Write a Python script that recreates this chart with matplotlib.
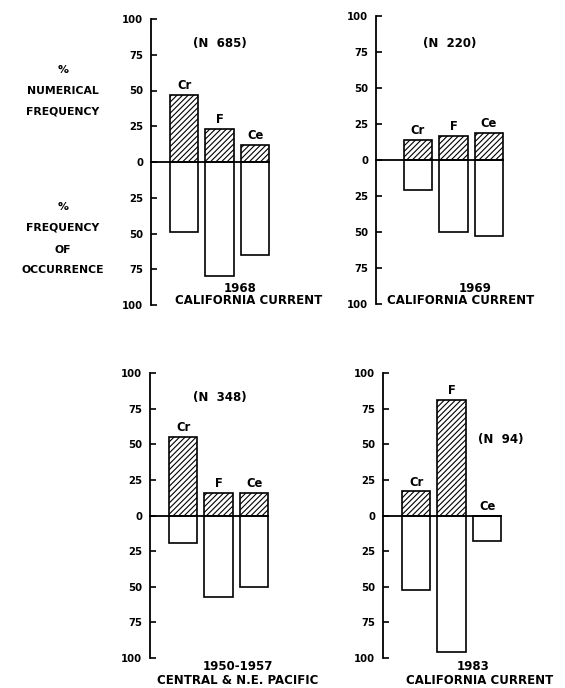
import matplotlib.pyplot as plt

plt.rcParams['font.family'] = ['DejaVu Sans']
plt.rcParams['font.weight'] = 'bold'
plt.rcParams['hatch.linewidth'] = 0.8

# Groups: Cr, F, Ce
groups = ["Cr", "F", "Ce"]

# % numerical frequency (upper bars) and % frequency of occurrence (lower bars)
num_1968 = [47, 23, 12]
occ_1968 = [49, 80, 65]
num_1969 = [14, 17, 19]
occ_1969 = [21, 50, 53]
num_1950 = [55, 16, 16]
occ_1950 = [19, 57, 50]
num_1983 = [17, 81, 0]
occ_1983 = [52, 96, 18]

years = ["1968", "1969", "1950-1957", "1983"]
regions = ["CALIFORNIA CURRENT", "CALIFORNIA CURRENT",
           "CENTRAL & N.E. PACIFIC", "CALIFORNIA CURRENT"]
sample_n = ["(N  685)", "(N  220)", "(N  348)", "(N  94)"]

W, H = 565, 688
fig = plt.figure(figsize=(W / 100, H / 100), dpi=100)

px_per_unit = 35.5


def make_axes(left_px, top_px, bottom_px, xmin, xmax):
    width_px = (xmax - xmin) * px_per_unit
    ax = fig.add_axes([left_px / W, 1 - bottom_px / H, width_px / W,
                       (bottom_px - top_px) / H])
    ax.set_xlim(xmin, xmax)
    ax.set_ylim(-100, 100)
    return ax


def draw_panel(ax, num, occ, n_label, n_pos):
    x = [1, 2, 3]
    bw = 0.8
    ax.bar(x, num, width=bw, facecolor='white', edgecolor='black',
           hatch='//////', linewidth=1.2)
    ax.bar(x, [-v for v in occ], width=bw, facecolor='white',
           edgecolor='black', linewidth=1.2)
    xmin = ax.get_xlim()[0]
    ax.plot([xmin, x[-1] + bw / 2], [0, 0], color='black', lw=1.3,
            clip_on=False)
    for xi, v, g in zip(x, num, groups):
        ax.text(xi, v + 6.5, g, ha='center', va='center', fontsize=8.3,
                fontweight='bold')
    ax.text(n_pos[0], n_pos[1], n_label, ha='center', va='center',
            fontsize=8.5, fontweight='bold')
    for s in ['top', 'right', 'bottom']:
        ax.spines[s].set_visible(False)
    ax.spines['left'].set_linewidth(1.3)
    ax.set_xticks([])
    ax.set_yticks([100, 75, 50, 25, 0, -25, -50, -75, -100])
    ax.set_yticklabels(["100", "75", "50", "25", "0", "25", "50", "75", "100"])
    ax.tick_params(axis='y', direction='in', length=4, width=1.2,
                   labelsize=7.3, pad=5.5)
    for lab in ax.get_yticklabels():
        lab.set_fontweight('bold')


ax1 = make_axes(151, 19, 305, 0.07, 3.45)
draw_panel(ax1, num_1968, occ_1968, sample_n[0], (2.0, 83))
ax2 = make_axes(376, 16, 304, -0.18, 3.45)
draw_panel(ax2, num_1969, occ_1969, sample_n[1], (1.9, 81))
ax3 = make_axes(150, 373, 658, 0.07, 3.45)
draw_panel(ax3, num_1950, occ_1950, sample_n[2], (2.05, 83))
ax4 = make_axes(383, 373, 658, 0.07, 3.45)
draw_panel(ax4, num_1983, occ_1983, sample_n[3], (3.4, 53))

# titles under each panel (pixel positions)
title_pos = [(240, 249, 289, 301), (475, 461, 288, 300),
             (238, 238, 666, 680), (473, 480, 666, 680)]
for (xy, xr, yy, yr), yr_lab, reg in zip(title_pos, years, regions):
    fig.text(xy / W, 1 - yy / H, yr_lab, ha='center', va='center',
             fontsize=8.5, fontweight='bold')
    fig.text(xr / W, 1 - yr / H, reg, ha='center', va='center',
             fontsize=8.5, fontweight='bold')

# left-side labels
left_labels = [("%", 70), ("NUMERICAL", 91), ("FREQUENCY", 112),
               ("%", 207), ("FREQUENCY", 228), ("OF", 250), ("OCCURRENCE", 270)]
for txt, yp in left_labels:
    fig.text(63 / W, 1 - yp / H, txt, ha='center', va='center',
             fontsize=7.8, fontweight='bold')

fig.savefig("out.png", dpi=100)
